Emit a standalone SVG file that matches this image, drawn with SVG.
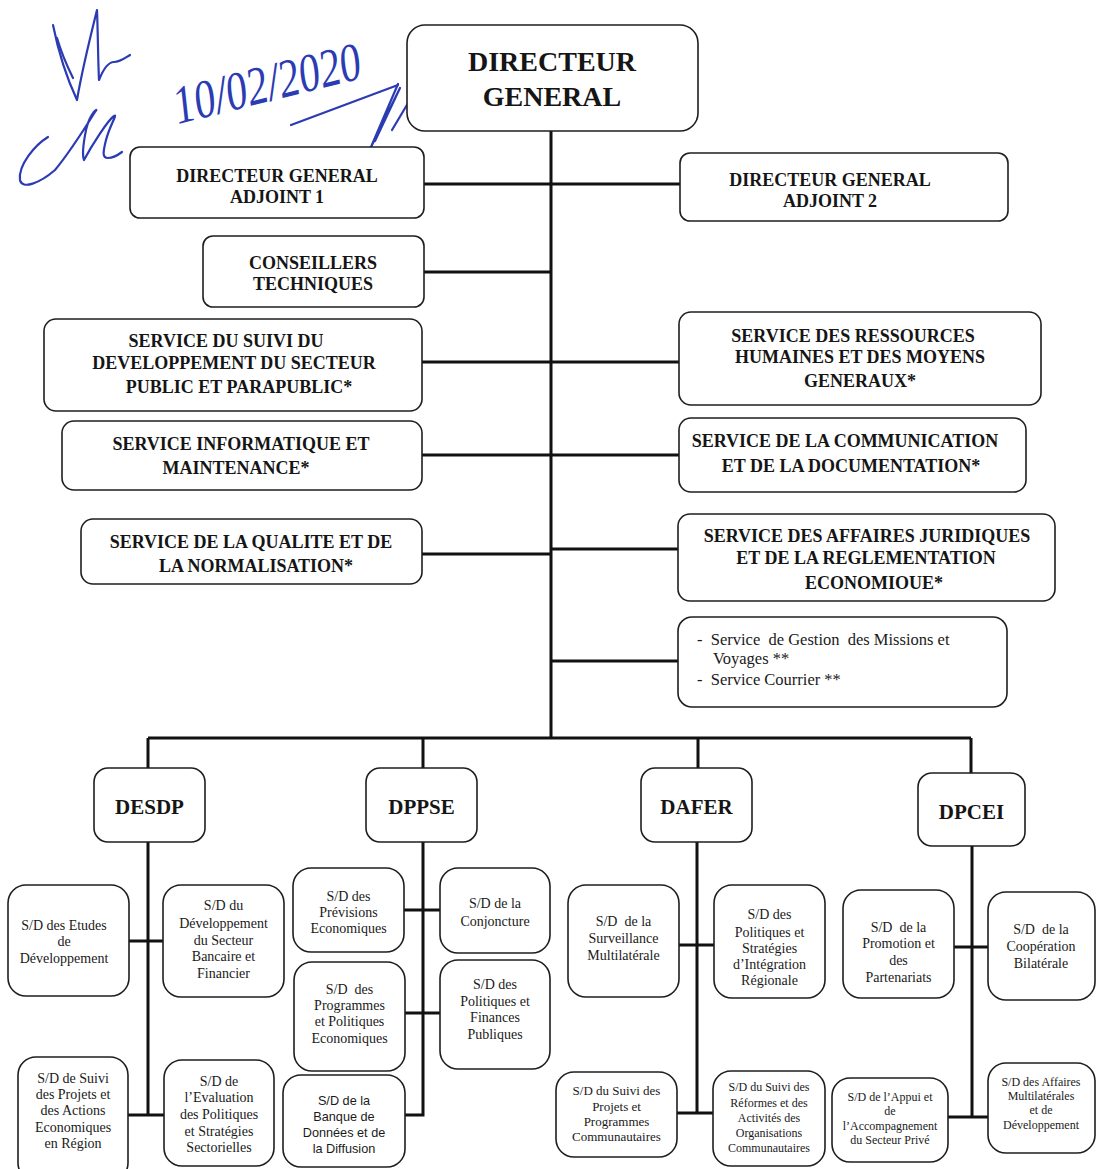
<svg xmlns="http://www.w3.org/2000/svg" width="1096" height="1169" viewBox="0 0 1096 1169">
  <style>
    .box { fill: #ffffff; stroke: #1e1e1e; stroke-width: 1.6; }
    .ln { fill: none; stroke: #111111; stroke-width: 3; }
    .pen { fill: none; stroke: #2b3bb3; stroke-width: 2.2; stroke-linecap: round; stroke-linejoin: round; }
    .hb { font-family: "Liberation Serif", "Times New Roman", serif; font-weight: bold; text-anchor: middle; fill: #151515; }
    .t28 { font-size: 28px; }
    .t18 { font-size: 18px; }
    .t21 { font-size: 21px; }
    .s { font-family: "Liberation Serif", "Times New Roman", serif; text-anchor: middle; fill: #1a1a1a; font-size: 14px; }
    .s13 { font-size: 13px; }
    .s12 { font-size: 12px; }
    .sans { font-family: "Liberation Sans", Arial, sans-serif; text-anchor: middle; fill: #1a1a1a; font-size: 12.7px; }
    .list { font-family: "Liberation Serif", "Times New Roman", serif; fill: #1a1a1a; font-size: 16.5px; }
  </style>

  <rect width="1096" height="1169" fill="#ffffff"/>

  <!-- handwritten initials and date -->
  <g id="signature">
    <path class="pen" d="M53,25 C60,60 70,85 77,100 C82,70 92,30 97,10 C98,35 98,60 99,80 C103,70 108,62 114,62 C120,62 125,58 130,55"/>
    <path class="pen" d="M57,38 C62,55 68,68 73,78"/>
    <path class="pen" d="M48,137 C35,145 18,165 20,180 C22,190 40,183 55,170 C70,152 90,120 95,112 C100,106 90,112 86,130 C83,145 82,155 84,160 C92,145 108,120 114,116 C118,113 110,125 106,140 C103,152 102,158 108,158 C112,158 118,155 122,152"/>
    <text x="178" y="124" transform="rotate(-14 178 124)" font-family="Liberation Serif, serif" font-style="italic" font-size="54" fill="#2b3bb3" textLength="192" lengthAdjust="spacingAndGlyphs">10/02/2020</text>
    <path class="pen" d="M291,125 L398,85"/>
    <path class="pen" d="M398,84 L371,147 L400,88 L375,141 M392,130 L420,83"/>
  </g>

  <!-- connectors -->
  <g id="connectors">
    <path class="ln" d="M551,131 V738"/>
    <path class="ln" d="M424,184 H680"/>
    <path class="ln" d="M424,272 H551"/>
    <path class="ln" d="M422,362 H679"/>
    <path class="ln" d="M422,455 H679"/>
    <path class="ln" d="M422,554 H551 M551,549 H678"/>
    <path class="ln" d="M551,661 H678"/>
    <path class="ln" d="M148,738 H971"/>
    <path class="ln" d="M148,738 V768 M423,738 V768 M698,738 V768 M971,738 V773"/>
    <!-- DESDP branch -->
    <path class="ln" d="M148,842 V1115 M129,941 H163 M128,1115 H164"/>
    <!-- DPPSE branch -->
    <path class="ln" d="M423,842 V1115 H405 M404,910 H440 M405,1013 H440"/>
    <!-- DAFER branch -->
    <path class="ln" d="M697,842 V1113 M679,945 H714 M677,1113 H713"/>
    <!-- DPCEI branch -->
    <path class="ln" d="M972,846 V1117 M954,947 H988 M948,1117 H988"/>
  </g>

  <!-- top management -->
  <g id="dg">
    <rect class="box" x="407" y="25" width="291" height="106" rx="18"/>
    <text class="hb t28" x="552" y="71">DIRECTEUR</text>
    <text class="hb t28" x="552" y="106">GENERAL</text>
  </g>
  <g id="dga1">
    <rect class="box" x="130" y="147" width="294" height="71" rx="10"/>
    <text class="hb t18" x="277" y="182">DIRECTEUR GENERAL</text>
    <text class="hb t18" x="277" y="203">ADJOINT 1</text>
  </g>
  <g id="dga2">
    <rect class="box" x="680" y="153" width="328" height="68" rx="10"/>
    <text class="hb t18" x="830" y="186">DIRECTEUR GENERAL</text>
    <text class="hb t18" x="830" y="207">ADJOINT 2</text>
  </g>
  <g id="conseillers">
    <rect class="box" x="203" y="236" width="221" height="71" rx="10"/>
    <text class="hb t18" x="313" y="269">CONSEILLERS</text>
    <text class="hb t18" x="313" y="290">TECHNIQUES</text>
  </g>

  <!-- services -->
  <g id="ssdspp">
    <rect class="box" x="44" y="319" width="378" height="92" rx="12"/>
    <text class="hb t18" x="226" y="347">SERVICE DU SUIVI DU</text>
    <text class="hb t18" x="234" y="369">DEVELOPPEMENT DU SECTEUR</text>
    <text class="hb t18" x="239" y="393">PUBLIC ET PARAPUBLIC*</text>
  </g>
  <g id="srhmg">
    <rect class="box" x="679" y="312" width="362" height="93" rx="12"/>
    <text class="hb t18" x="853" y="342">SERVICE DES RESSOURCES</text>
    <text class="hb t18" x="860" y="363">HUMAINES ET DES MOYENS</text>
    <text class="hb t18" x="860" y="387">GENERAUX*</text>
  </g>
  <g id="sim">
    <rect class="box" x="62" y="421" width="360" height="69" rx="12"/>
    <text class="hb t18" x="241" y="450">SERVICE INFORMATIQUE ET</text>
    <text class="hb t18" x="236" y="474">MAINTENANCE*</text>
  </g>
  <g id="scd">
    <rect class="box" x="679" y="418" width="347" height="74" rx="12"/>
    <text class="hb t18" x="845" y="447">SERVICE DE LA COMMUNICATION</text>
    <text class="hb t18" x="851" y="472">ET DE LA DOCUMENTATION*</text>
  </g>
  <g id="sqn">
    <rect class="box" x="81" y="519" width="341" height="65" rx="12"/>
    <text class="hb t18" x="251" y="548">SERVICE DE LA QUALITE ET DE</text>
    <text class="hb t18" x="256" y="572">LA NORMALISATION*</text>
  </g>
  <g id="sajre">
    <rect class="box" x="678" y="514" width="377" height="87" rx="12"/>
    <text class="hb t18" x="867" y="542">SERVICE DES AFFAIRES JURIDIQUES</text>
    <text class="hb t18" x="866" y="564">ET DE LA REGLEMENTATION</text>
    <text class="hb t18" x="874" y="589">ECONOMIOUE*</text>
  </g>
  <g id="services-annexes">
    <rect class="box" x="678" y="617" width="329" height="90" rx="14"/>
    <text class="list" x="697" y="645" xml:space="preserve">-  Service  de Gestion  des Missions et</text>
    <text class="list" x="713" y="664">Voyages **</text>
    <text class="list" x="697" y="685" xml:space="preserve">-  Service Courrier **</text>
  </g>

  <!-- directorates -->
  <g id="desdp">
    <rect class="box" x="94" y="768" width="111" height="74" rx="14"/>
    <text class="hb t21" x="149.5" y="814">DESDP</text>
  </g>
  <g id="dppse">
    <rect class="box" x="366" y="768" width="111" height="74" rx="14"/>
    <text class="hb t21" x="421.5" y="814">DPPSE</text>
  </g>
  <g id="dafer">
    <rect class="box" x="641" y="768" width="111" height="74" rx="14"/>
    <text class="hb t21" x="696.5" y="814">DAFER</text>
  </g>
  <g id="dpcei">
    <rect class="box" x="918" y="773" width="107" height="73" rx="14"/>
    <text class="hb t21" x="971.5" y="819">DPCEI</text>
  </g>

  <!-- DESDP sub-directorates -->
  <g id="sd-etudes">
    <rect class="box" x="8" y="885" width="121" height="111" rx="18"/>
    <text class="s" x="64" y="930">S/D des Etudes</text>
    <text class="s" x="64" y="946">de</text>
    <text class="s" x="64" y="963">Développement</text>
  </g>
  <g id="sd-bancaire">
    <rect class="box" x="163" y="885" width="121" height="112" rx="18"/>
    <text class="s" x="223.5" y="910">S/D du</text>
    <text class="s" x="223.5" y="928">Développement</text>
    <text class="s" x="223.5" y="945">du Secteur</text>
    <text class="s" x="223.5" y="961">Bancaire et</text>
    <text class="s" x="223.5" y="978">Financier</text>
  </g>
  <g id="sd-region">
    <rect class="box" x="18" y="1057" width="110" height="124" rx="18"/>
    <text class="s" x="73" y="1083">S/D de Suivi</text>
    <text class="s" x="73" y="1099">des Projets et</text>
    <text class="s" x="73" y="1115">des Actions</text>
    <text class="s" x="73" y="1132">Economiques</text>
    <text class="s" x="73" y="1148">en Région</text>
  </g>
  <g id="sd-evaluation">
    <rect class="box" x="164" y="1060" width="110" height="106" rx="18"/>
    <text class="s" x="219" y="1086">S/D de</text>
    <text class="s" x="219" y="1102">l’Evaluation</text>
    <text class="s" x="219" y="1119">des Politiques</text>
    <text class="s" x="219" y="1136">et Stratégies</text>
    <text class="s" x="219" y="1152">Sectorielles</text>
  </g>

  <!-- DPPSE sub-directorates -->
  <g id="sd-previsions">
    <rect class="box" x="293" y="868" width="111" height="84" rx="18"/>
    <text class="s" x="348.5" y="901">S/D des</text>
    <text class="s" x="348.5" y="917">Prévisions</text>
    <text class="s" x="348.5" y="933">Economiques</text>
  </g>
  <g id="sd-conjoncture">
    <rect class="box" x="440" y="868" width="110" height="85" rx="18"/>
    <text class="s" x="495" y="908">S/D de la</text>
    <text class="s" x="495" y="926">Conjoncture</text>
  </g>
  <g id="sd-programmes">
    <rect class="box" x="294" y="962" width="111" height="109" rx="18"/>
    <text class="s" x="349.5" y="994" xml:space="preserve">S/D  des</text>
    <text class="s" x="349.5" y="1010">Programmes</text>
    <text class="s" x="349.5" y="1026">et Politiques</text>
    <text class="s" x="349.5" y="1043">Economiques</text>
  </g>
  <g id="sd-finances">
    <rect class="box" x="440" y="960" width="110" height="109" rx="18"/>
    <text class="s" x="495" y="989">S/D des</text>
    <text class="s" x="495" y="1006">Politiques et</text>
    <text class="s" x="495" y="1022">Finances</text>
    <text class="s" x="495" y="1039">Publiques</text>
  </g>
  <g id="sd-banque">
    <rect class="box" x="283" y="1075" width="122" height="92" rx="18"/>
    <text class="sans" x="344" y="1105">S/D de la</text>
    <text class="sans" x="344" y="1121">Banque de</text>
    <text class="sans" x="344" y="1137">Données et de</text>
    <text class="sans" x="344" y="1153">la Diffusion</text>
  </g>

  <!-- DAFER sub-directorates -->
  <g id="sd-surveillance">
    <rect class="box" x="568" y="885" width="111" height="112" rx="18"/>
    <text class="s" x="623.5" y="926" xml:space="preserve">S/D  de la</text>
    <text class="s" x="623.5" y="943">Surveillance</text>
    <text class="s" x="623.5" y="960">Multilatérale</text>
  </g>
  <g id="sd-integration">
    <rect class="box" x="714" y="885" width="111" height="113" rx="18"/>
    <text class="s" x="769.5" y="919">S/D des</text>
    <text class="s" x="769.5" y="937">Politiques et</text>
    <text class="s" x="769.5" y="953">Stratégies</text>
    <text class="s" x="769.5" y="969">d’Intégration</text>
    <text class="s" x="769.5" y="985">Régionale</text>
  </g>
  <g id="sd-projets-communautaires">
    <rect class="box" x="556" y="1072" width="121" height="85" rx="18"/>
    <text class="s s13" x="616.5" y="1095">S/D du Suivi des</text>
    <text class="s s13" x="616.5" y="1111">Projets et</text>
    <text class="s s13" x="616.5" y="1126">Programmes</text>
    <text class="s s13" x="616.5" y="1141">Communautaires</text>
  </g>
  <g id="sd-reformes">
    <rect class="box" x="713" y="1071" width="112" height="95" rx="18"/>
    <text class="s s12" x="769" y="1091">S/D du Suivi des</text>
    <text class="s s12" x="769" y="1107">Réformes et des</text>
    <text class="s s12" x="769" y="1122">Activités des</text>
    <text class="s s12" x="769" y="1137">Organisations</text>
    <text class="s s12" x="769" y="1152">Communautaires</text>
  </g>

  <!-- DPCEI sub-directorates -->
  <g id="sd-promotion">
    <rect class="box" x="843" y="890" width="111" height="108" rx="18"/>
    <text class="s" x="898.5" y="932" xml:space="preserve">S/D  de la</text>
    <text class="s" x="898.5" y="948">Promotion et</text>
    <text class="s" x="898.5" y="965">des</text>
    <text class="s" x="898.5" y="982">Partenariats</text>
  </g>
  <g id="sd-bilaterale">
    <rect class="box" x="988" y="892" width="107" height="108" rx="18"/>
    <text class="s" x="1041" y="934" xml:space="preserve">S/D  de la</text>
    <text class="s" x="1041" y="951">Coopération</text>
    <text class="s" x="1041" y="968">Bilatérale</text>
  </g>
  <g id="sd-secteur-prive">
    <rect class="box" x="832" y="1078" width="116" height="84" rx="18"/>
    <text class="s s12" x="890" y="1101">S/D de l’Appui et</text>
    <text class="s s12" x="890" y="1115">de</text>
    <text class="s s12" x="890" y="1130">l’Accompagnement</text>
    <text class="s s12" x="890" y="1144">du Secteur Privé</text>
  </g>
  <g id="sd-multilaterales">
    <rect class="box" x="988" y="1063" width="107" height="90" rx="18"/>
    <text class="s s12" x="1041" y="1086">S/D des Affaires</text>
    <text class="s s12" x="1041" y="1100">Multilatérales</text>
    <text class="s s12" x="1041" y="1114">et de</text>
    <text class="s s12" x="1041" y="1129">Développement</text>
  </g>
</svg>
